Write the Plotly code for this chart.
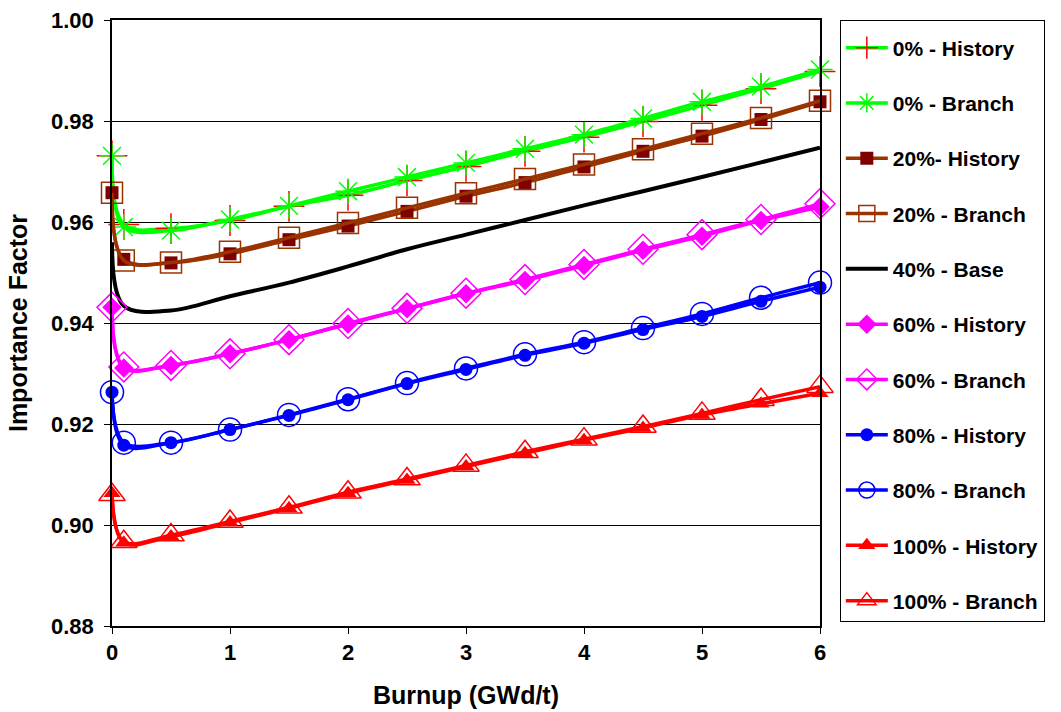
import plotly.graph_objects as go

burnup = [0, 0.1, 0.5, 1, 1.5, 2, 2.5, 3, 3.5, 4, 4.5, 5, 5.5, 6]

h0 = [0.9731, 0.9595, 0.9587, 0.9603, 0.9631, 0.9653, 0.9682, 0.9710, 0.9740, 0.9768, 0.9799, 0.9831, 0.9864, 0.9898]
b0 = [0.9731, 0.9590, 0.9583, 0.9605, 0.9632, 0.9661, 0.9689, 0.9717, 0.9745, 0.9773, 0.9805, 0.9838, 0.9868, 0.9902]
h20 = [0.9658, 0.9526, 0.9519, 0.9537, 0.9565, 0.9592, 0.9621, 0.9651, 0.9678, 0.9709, 0.9740, 0.9770, 0.9803, 0.9838]
b20 = [0.9658, 0.9524, 0.9520, 0.9541, 0.9569, 0.9598, 0.9628, 0.9657, 0.9685, 0.9714, 0.9744, 0.9775, 0.9806, 0.9840]
base40 = [0.9560, 0.9434, 0.9425, 0.9453, 0.9480, 0.9512, 0.9546, 0.9575, 0.9604, 0.9633, 0.9661, 0.9689, 0.9718, 0.9747]
h60 = [0.9431, 0.9311, 0.9316, 0.9339, 0.9367, 0.9398, 0.9428, 0.9458, 0.9484, 0.9514, 0.9544, 0.9572, 0.9603, 0.9630]
b60 = [0.9431, 0.9313, 0.9316, 0.9339, 0.9367, 0.9399, 0.9429, 0.9459, 0.9486, 0.9516, 0.9546, 0.9575, 0.9605, 0.9636]
h80 = [0.9263, 0.9158, 0.9163, 0.9189, 0.9217, 0.9248, 0.9280, 0.9308, 0.9336, 0.9360, 0.9387, 0.9413, 0.9443, 0.9471]
b80 = [0.9263, 0.9163, 0.9163, 0.9189, 0.9218, 0.9249, 0.9281, 0.9310, 0.9338, 0.9362, 0.9390, 0.9418, 0.9450, 0.9480]
h100 = [0.9063, 0.8965, 0.8977, 0.9005, 0.9033, 0.9063, 0.9089, 0.9116, 0.9142, 0.9168, 0.9192, 0.9218, 0.9240, 0.9261]
b100 = [0.9060, 0.8967, 0.8980, 0.9007, 0.9035, 0.9065, 0.9091, 0.9118, 0.9145, 0.9170, 0.9195, 0.9221, 0.9248, 0.9274]

names = ["0% - History", "0% - Branch", "20%- History", "20% - Branch", "40% - Base",
         "60% - History", "60% - Branch", "80% - History", "80% - Branch",
         "100% - History", "100% - Branch"]
series = [h0, b0, h20, b20, base40, h60, b60, h80, b80, h100, b100]

styles = [
    dict(line="#00FF00", sym="cross-thin-open", size=22, mcol="#FF0000", lw=1.5),
    dict(line="#00FF00", sym="asterisk-open", size=21, mcol="#00FF00", lw=1.5),
    dict(line="#993300", sym="square", size=13, mcol="#800000", lw=0),
    dict(line="#993300", sym="square-open", size=21, mcol="#993300", lw=1.5),
    dict(line="#000000", sym=None, size=0, mcol="#000000", lw=0),
    dict(line="#FF00FF", sym="diamond", size=15, mcol="#FF00FF", lw=0),
    dict(line="#FF00FF", sym="diamond-open", size=23, mcol="#FF00FF", lw=1.5),
    dict(line="#0000FF", sym="circle", size=13, mcol="#0000FF", lw=0),
    dict(line="#0000FF", sym="circle-open", size=23, mcol="#0000FF", lw=1.5),
    dict(line="#FF0000", sym="triangle-up", size=15, mcol="#FF0000", lw=0),
    dict(line="#FF0000", sym="triangle-up-open", size=23, mcol="#FF0000", lw=1.5),
]

FONT = "Liberation Sans"

fig = go.Figure()
for i, (nm, ys, st) in enumerate(zip(names, series, styles)):
    if st["sym"] is None:
        fig.add_trace(go.Scatter(
            x=burnup, y=ys, name=nm, mode="lines", legendgroup=str(i),
            line=dict(color=st["line"], width=4, shape="spline", smoothing=1.0),
        ))
    else:
        fig.add_trace(go.Scatter(
            x=burnup, y=ys, name=nm, mode="lines+markers", legendgroup=str(i),
            cliponaxis=False,
            line=dict(color=st["line"], width=3.5, shape="spline", smoothing=1.0),
            marker=dict(symbol=st["sym"], size=st["size"], color=st["mcol"],
                        line=dict(color=st["mcol"], width=st["lw"])),
        ))

fig.update_layout(
    width=1061, height=712,
    margin=dict(l=112, r=241, t=20, b=86, autoexpand=False),
    paper_bgcolor="white", plot_bgcolor="white",
    font=dict(family=FONT, color="black", weight="bold"),
    legend=dict(
        x=1.028, y=1.0, xanchor="left", yanchor="top",
        bordercolor="black", borderwidth=1,
        font=dict(family=FONT, size=21, color="black", weight="bold"),
        title=dict(text=" ", font=dict(size=5)),
        tracegroupgap=25, itemwidth=42, maxheight=700,
    ),
    xaxis=dict(
        range=[0, 6], tickvals=[0, 1, 2, 3, 4, 5, 6], ticks="outside", ticklen=6,
        tickcolor="black", showgrid=False, zeroline=False, automargin=False,
        showline=True, linecolor="black", linewidth=1.5, mirror=True,
        tickfont=dict(family=FONT, size=22, weight="bold"),
        title=dict(text="Burnup (GWd/t)", standoff=22,
                   font=dict(family=FONT, size=25, weight="bold")),
    ),
    yaxis=dict(
        range=[0.88, 1.0], tickvals=[0.88, 0.90, 0.92, 0.94, 0.96, 0.98, 1.00],
        tickformat=".2f", ticks="outside", ticklen=6, tickcolor="black",
        ticklabelstandoff=6, automargin=False,
        showgrid=True, gridcolor="black", gridwidth=1, zeroline=False,
        showline=True, linecolor="black", linewidth=1.5, mirror=True,
        tickfont=dict(family=FONT, size=22, weight="bold"),
        title=dict(text="Importance Factor", standoff=16,
                   font=dict(family=FONT, size=25, weight="bold")),
    ),
)

fig.write_html("out.html")
